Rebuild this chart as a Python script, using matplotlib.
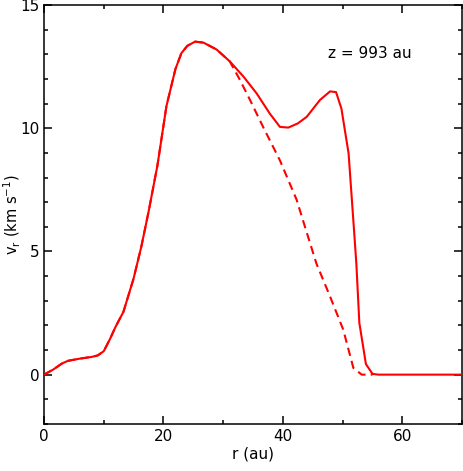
import numpy as np
import matplotlib.pyplot as plt
from matplotlib.ticker import MultipleLocator

# radial velocity profile at z = 993 au
r_full = [0, 1.5, 3, 4, 6, 8, 9, 10, 11, 12, 13.3, 15, 16.3, 17.5, 19, 20.5,
          22, 23, 24, 25.3, 26.7, 28.9, 31.1, 33.4, 35.6, 37.8, 39.5, 40.9,
          42.5, 44, 46.2, 47.9, 48.9, 49.8, 51, 51.9, 52.3, 52.8, 53.9, 55,
          56, 60, 65, 70]
v_full = [0, 0.2, 0.45, 0.56, 0.65, 0.72, 0.78, 0.95, 1.42, 1.95, 2.55, 3.9,
          5.2, 6.6, 8.5, 10.9, 12.4, 13.05, 13.35, 13.52, 13.48, 13.2, 12.72,
          12.1, 11.42, 10.6, 10.06, 10.03, 10.2, 10.47, 11.15, 11.5, 11.47,
          10.8, 8.98, 5.9, 4.5, 2.1, 0.43, 0.03, 0, 0, 0, 0]

# second profile (dashed), same as above until r ~ 31 au
r_dash = [0, 1.5, 3, 4, 6, 8, 9, 10, 11, 12, 13.3, 15, 16.3, 17.5, 19, 20.5,
          22, 23, 24, 25.3, 26.7, 28.9, 31.1, 32.8, 34.5, 36.7, 39.5, 42.3,
          43.7, 45.6, 47.9, 50.1, 51.8, 53.2, 55]
v_dash = [0, 0.2, 0.45, 0.56, 0.65, 0.72, 0.78, 0.95, 1.42, 1.95, 2.55, 3.9,
          5.2, 6.6, 8.5, 10.9, 12.4, 13.05, 13.35, 13.52, 13.48, 13.2, 12.72,
          11.97, 11.15, 10.05, 8.7, 7.1, 6.0, 4.52, 3.17, 1.83, 0.27, 0.0, 0.0]

label_z = "z = 993 au"

fig = plt.figure(figsize=(4.63, 4.71), dpi=100)
ax = fig.add_axes([0.095, 0.1, 0.903, 0.889])

ax.plot(r_dash, v_dash, color='red', lw=1.5, ls=(0, (4, 2.5)), zorder=2)
ax.plot(r_full, v_full, color='red', lw=1.5, zorder=3)

ax.set_xlim(0, 70)
ax.set_ylim(-2, 15)
ax.xaxis.set_major_locator(MultipleLocator(20))
ax.xaxis.set_minor_locator(MultipleLocator(10))
ax.yaxis.set_major_locator(MultipleLocator(5))
ax.yaxis.set_minor_locator(MultipleLocator(1))
ax.tick_params(which='both', direction='in', top=True, right=True,
               width=1.1, labelsize=11)
ax.tick_params(which='major', length=6)
ax.tick_params(which='minor', length=3)
ax.tick_params(axis='y', pad=3)
for s in ax.spines.values():
    s.set_linewidth(1.1)

ax.text(47.5, 13.05, label_z, fontsize=11, va='center', ha='left')

ax.set_xlabel('r (au)', fontsize=11, labelpad=2)
ax.set_ylabel(r'v$_\mathregular{r}$ (km s$^{\mathregular{-1}}$)', fontsize=10.5)
ax.yaxis.set_label_coords(-0.05, 0.5)

fig.savefig('out.png', dpi=100)
